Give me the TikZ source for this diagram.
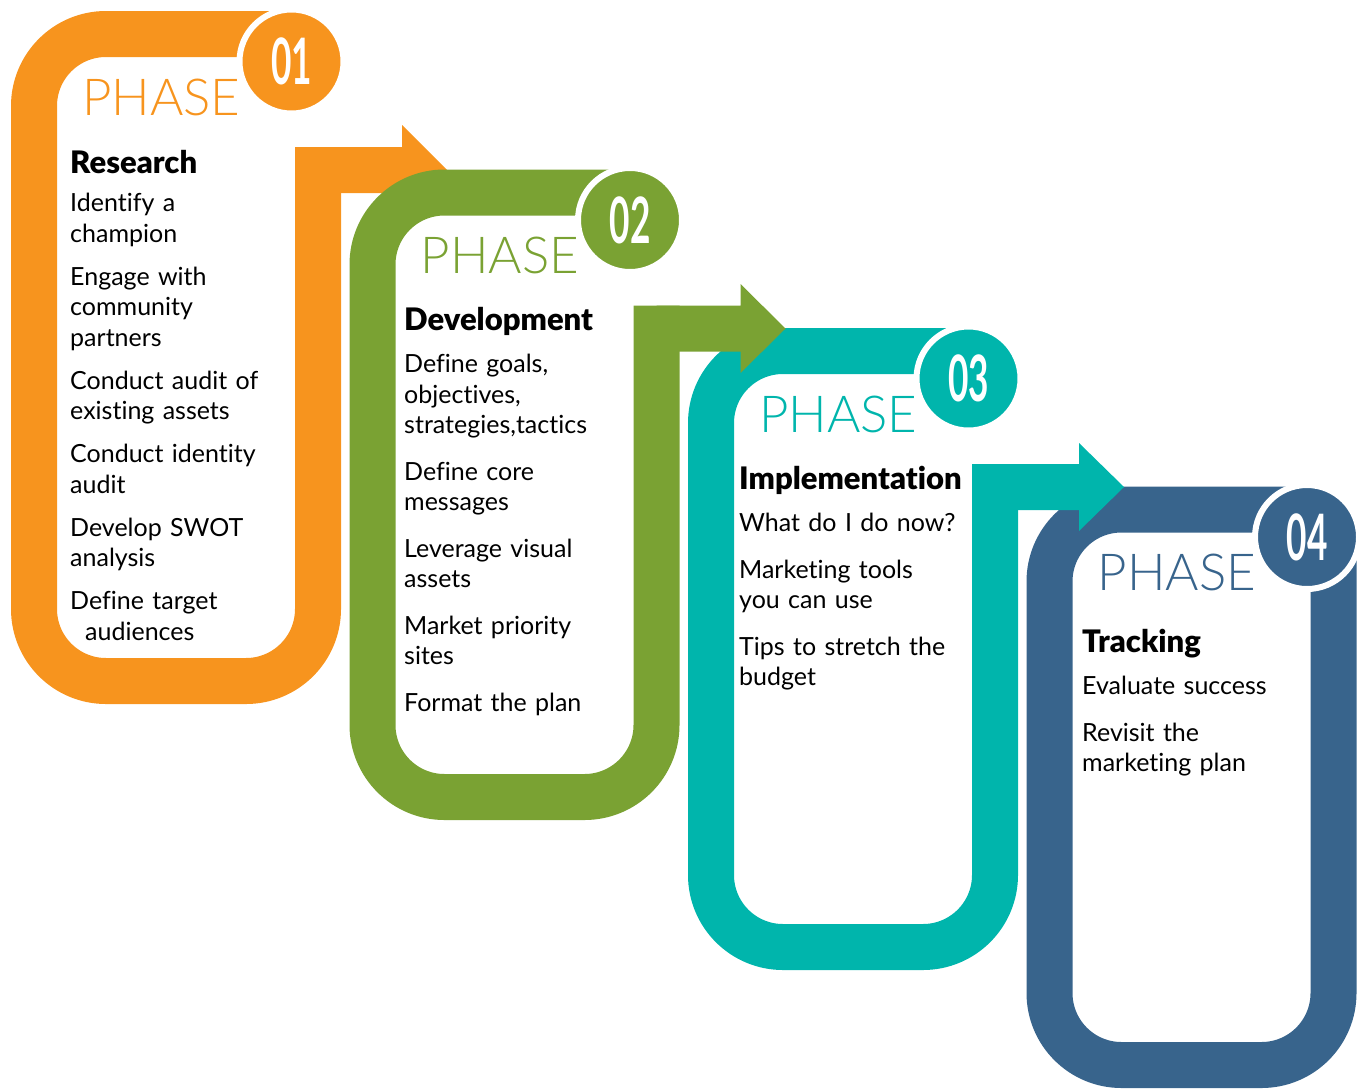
\documentclass[tikz,border=0pt]{standalone}
\usepackage{fontspec}
\setmainfont{Lato}[Ligatures={NoCommon}]
\newfontfamily\phasefont{Lato Light}
\newfontfamily\headfont{Lato Black}[Ligatures={NoCommon}]
\usetikzlibrary{positioning}

\definecolor{phaseorange}{RGB}{247,148,30}
\definecolor{phasegreen}{RGB}{122,162,51}
\definecolor{phaseteal}{RGB}{0,181,172}
\definecolor{phaseblue}{RGB}{56,100,140}

\newlength{\itemgap}
\setlength{\itemgap}{16pt}
\newcommand{\phasehead}[2][12pt]{{\headfont\fontsize{31}{31}\selectfont #2\par}\vspace{#1}}
\newcommand{\phaseitem}[1]{#1\par\vspace{\itemgap}}
\newcommand{\phasenum}[1]{\scalebox{0.55}[1]{#1}}

\begin{document}
\begin{tikzpicture}[
    x=1pt, y=-1pt,
    band/.style={line width=46pt, rounded corners=72pt},
    badge/.style={
        circle,
        draw=white,
        line width=6pt,
        minimum size=104pt,
        inner sep=0pt,
        text=white,
        font=\fontsize{64}{64}\selectfont\bfseries
      },
    phaselabel/.style={
        anchor=base west,
        inner sep=0pt,
        font=\phasefont\fontsize{51}{51}\selectfont
      },
    steptext/.style={
        anchor=base west,
        inner sep=0pt,
        text width=290pt,
        align=left,
        font=\fontsize{25}{30.5}\selectfont
      }
    ]

    \useasboundingbox (0,0) rectangle (1359,1090);

    % ============= PHASE 04 (BLEU) ==================

    % -------------------------------
    \draw[band, phaseblue] (1307,509.5) -- (1049.5,509.5) -- (1049.5,1065)
        -- (1333.5,1065) -- (1333.5,537);
    \node[badge, fill=phaseblue] (N4) at (1307,537) {\phasenum{04}};
    % -------------------------------

    % ============= PHASE 03 (TURQUOISE) ==================

    % -------------------------------
    \draw[band, phaseteal] (968.5,351) -- (711,351) -- (711,947)
        -- (995,947) -- (995,464);
    \fill[phaseteal] (995,464) -- (1079,464) -- (1079,443) -- (1124,487)
        -- (1079,531) -- (1079,510) -- (995,510) -- cycle;
    \node[badge, fill=phaseteal] (N3) at (968.5,378.5) {\phasenum{03}};
    % -------------------------------

    % ============= PHASE 01 (ORANGE) ==================

    % -------------------------------
    \draw[band, phaseorange] (291.5,34) -- (34,34) -- (34,681)
        -- (318,681) -- (318,147);
    \fill[phaseorange] (318,147) -- (402,147) -- (402,125) -- (447,170)
        -- (402,215) -- (402,193) -- (318,193) -- cycle;
    \node[badge, fill=phaseorange] (N1) at (291.5,61.5) {\phasenum{01}};
    % -------------------------------

    % ============= PHASE 02 (VERT) ==================

    % -------------------------------
    \draw[band, phasegreen] (630,192.5) -- (372.5,192.5) -- (372.5,797)
        -- (656.5,797) -- (656.5,305.5);
    \fill[phasegreen] (656.5,305.5) -- (740.5,305.5) -- (740.5,284) -- (785.5,328.5)
        -- (740.5,373) -- (740.5,351.5) -- (656.5,351.5) -- cycle;
    \node[badge, fill=phasegreen] (N2) at (630,220) {\phasenum{02}};
    % -------------------------------

    % ============= TEXTES ==================

    % -------------------------------
    \node[phaselabel, text=phaseorange] (P1) at (82,115) {PHASE};
    \node[steptext] (T1) at (70,173) {%
      \setlength{\itemgap}{12.5pt}%
      \phasehead[8pt]{Research}
      \phaseitem{Identify a\\champion}
      \phaseitem{Engage with\\community\\partners}
      \phaseitem{Conduct audit of\\existing assets}
      \phaseitem{Conduct identity\\audit}
      \phaseitem{Develop SWOT\\analysis}
      \phaseitem{Define target\\\hspace*{15pt}audiences}
    };
    % -------------------------------

    % -------------------------------
    \node[phaselabel, text=phasegreen] (P2) at (420.5,273.5) {PHASE};
    \node[steptext] (T2) at (404,330) {
      \phasehead{Development}
      \phaseitem{Define goals,\\objectives,\\strategies,tactics}
      \phaseitem{Define core\\messages}
      \phaseitem{Leverage visual\\assets}
      \phaseitem{Market priority\\sites}
      \phaseitem{Format the plan}
    };
    % -------------------------------

    % -------------------------------
    \node[phaselabel, text=phaseteal] (P3) at (759,432) {PHASE};
    \node[steptext] (T3) at (739,489) {
      \phasehead{Implementation}
      \phaseitem{What do I do now?}
      \phaseitem{Marketing tools\\you can use}
      \phaseitem{Tips to stretch the\\budget}
    };
    % -------------------------------

    % -------------------------------
    \node[phaselabel, text=phaseblue] (P4) at (1097.5,590.5) {PHASE};
    \node[steptext] (T4) at (1082,652) {
      \phasehead{Tracking}
      \phaseitem{Evaluate success}
      \phaseitem{Revisit the\\marketing plan}
    };
    % -------------------------------

  \end{tikzpicture}
\end{document}
